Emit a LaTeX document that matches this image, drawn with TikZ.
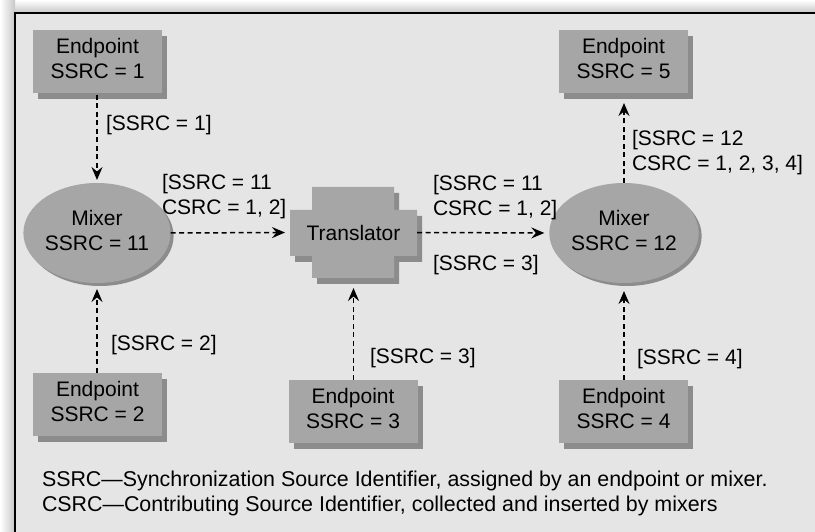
\documentclass[tikz,border=0pt]{standalone}
\usepackage{fontspec}
\setmainfont{Liberation Sans}
\usetikzlibrary{arrows.meta,shapes.geometric,shadows}

\definecolor{panel}{gray}{0.90}
\definecolor{blockfill}{gray}{0.65}
\definecolor{blockshade}{gray}{0.55}
\definecolor{rim}{gray}{0.78}

% centred or flush-left stacked lines
\newcommand\linesc[1]{\begin{tabular}{@{}c@{}}#1\end{tabular}}
\newcommand\linesl[1]{\begin{tabular}{@{}l@{}}#1\end{tabular}}

\begin{document}
\begin{tikzpicture}[x=1pt,y=-1pt,
  every node/.style={font=\fontsize{21}{25}\selectfont, inner sep=0pt, outer sep=0pt},
  endpoint/.style={rectangle, fill=blockfill, minimum width=129pt, minimum height=63pt,
    drop shadow={shadow xshift=5pt, shadow yshift=-6pt, fill=blockshade, opacity=1}},
  mixer/.style={ellipse, fill=blockfill, minimum width=142pt, minimum height=100pt,
    drop shadow={shadow xshift=3pt, shadow yshift=-3pt, fill=blockshade, opacity=1}},
  note/.style={anchor=west},
  flow/.style={draw=black, line width=1.5pt, dash pattern=on 5pt off 3.5pt,
    -{Stealth[length=13pt, width=11pt, inset=4.5pt]}}]

% page and frame
\useasboundingbox (0,0) rectangle (815,532);
\fill[white] (0,0) rectangle (815,532);
\shade[top color=white, bottom color=rim] (0,0) rectangle (815,13);
\shade[left color=white, right color=rim] (0,0) rectangle (15,532);
\fill[panel] (15,13) rectangle (818,535);
\draw[black, line width=1.6pt] (15,535) -- (15,13) -- (818,13);

% translator: a block with notched corners
\fill[blockshade, shift={(5,6)}]
  (312,187) -- (394,187) -- (394,210) -- (417,210) -- (417,256) -- (394,256)
  -- (394,278) -- (312,278) -- (312,256) -- (290,256) -- (290,210) -- (312,210) -- cycle;
\fill[blockfill]
  (312,187) -- (394,187) -- (394,210) -- (417,210) -- (417,256) -- (394,256)
  -- (394,278) -- (312,278) -- (312,256) -- (290,256) -- (290,210) -- (312,210) -- cycle;
\node (tr) [minimum width=127pt, minimum height=91pt] at (353.5,232.5) {Translator};

% endpoints
\node (ep1) [endpoint] at (97.5,61.5) {\linesc{Endpoint\\SSRC = 1}};
\node (ep5) [endpoint] at (623.5,61.5) {\linesc{Endpoint\\SSRC = 5}};
\node (ep2) [endpoint] at (97.5,404) {\linesc{Endpoint\\SSRC = 2}};
\node (ep3) [endpoint] at (353,411) {\linesc{Endpoint\\SSRC = 3}};
\node (ep4) [endpoint] at (623.5,411) {\linesc{Endpoint\\SSRC = 4}};

% mixers
\node (mx1) [mixer] at (97,233) {\linesc{Mixer\\SSRC = 11}};
\node (mx2) [mixer, minimum width=138pt] at (624,233) {\linesc{Mixer\\SSRC = 12}};

% media flows
\draw[flow, shorten <=2pt, shorten >=3pt] (ep1.south -| mx1.north) -- (mx1.north);
\draw[flow, shorten >=6pt] (ep2.north -| mx1.south) -- (mx1.south);
\draw[flow, shorten >=5pt] (mx1.east) -- (tr.west);
\draw[flow, shorten >=10pt] (ep3.north -| tr.south) -- (tr.south);
\draw[flow, shorten >=5pt] (tr.east) -- (mx2.west);
\draw[flow, shorten >=8pt] (ep4.north -| mx2.south) -- (mx2.south);
\draw[flow, shorten >=10pt] (mx2.north) -- (mx2.north |- ep5.south);

% packet headers along the flows
\node (h1) [note] at (106,126) {\linesl{[SSRC = 1]}};
\node (h2) [note] at (162,197) {\linesl{[SSRC = 11\\CSRC = 1, 2]}};
\node (h3) [note] at (433,198) {\linesl{[SSRC = 11\\CSRC = 1, 2]}};
\node (h4) [note] at (433,266) {\linesl{[SSRC = 3]}};
\node (h5) [note] at (632,153) {\linesl{[SSRC = 12\\CSRC = 1, 2, 3, 4]}};
\node (h6) [note] at (111,345) {\linesl{[SSRC = 2]}};
\node (h7) [note] at (370,358) {\linesl{[SSRC = 3]}};
\node (h8) [note] at (637,359) {\linesl{[SSRC = 4]}};

% legend
\node (legend) [note, font=\fontsize{21.4}{25.5}\selectfont] at (42,494)
  {\linesl{SSRC—Synchronization Source Identifier, assigned by an endpoint or mixer.\\CSRC—Contributing Source Identifier, collected and inserted by mixers}};
\end{tikzpicture}
\end{document}
